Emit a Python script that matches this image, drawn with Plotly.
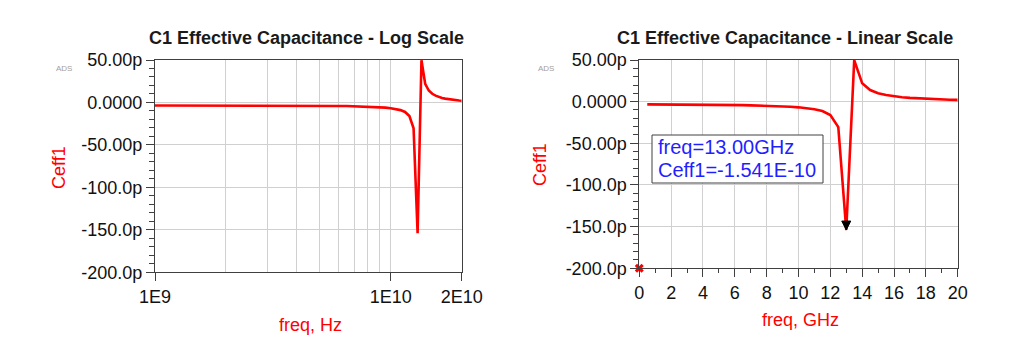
import math
import plotly.graph_objects as go

# ---------------- data ----------------
freq_ghz = [0.5, 1.0, 1.5, 2.0, 2.5, 3.0, 3.5, 4.0, 4.5, 5.0,
            5.5, 6.0, 6.5, 7.0, 7.5, 8.0, 8.5, 9.0, 9.5, 10.0,
            10.5, 11.0, 11.5, 12.0, 12.5, 13.0, 13.5, 14.0, 14.5, 15.0,
            15.5, 16.0, 16.5, 17.0, 17.5, 18.0, 18.5, 19.0, 19.5, 20.0]
ceff_pf = [-3.3, -3.3, -3.3, -3.35, -3.4, -3.5, -3.55, -3.6, -3.7, -3.8,
           -3.9, -4.1, -4.2, -4.4, -4.6, -4.8, -5.2, -5.6, -6.1, -6.8,
           -7.7, -9.0, -11.2, -16.0, -30.5, -154.1, 49.8, 22.0, 14.0, 10.2,
           8.0, 6.3, 5.3, 4.5, 3.9, 3.3, 2.9, 2.6, 2.3, 2.1]

y_tickvals = [50, 0, -50, -100, -150, -200]
y_ticktext = ["50.00p", "0.0000", "-50.00p", "-100.0p", "-150.0p", "-200.0p"]
log_tickvals = [1e9, 1e10, 2e10]
log_ticktext = ["1E9", "1E10", "2E10"]
log_minor_vals = [2e9, 3e9, 4e9, 5e9, 6e9, 7e9, 8e9, 9e9]
lin_tickvals = [0, 2, 4, 6, 8, 10, 12, 14, 16, 18, 20]
marker_freq = 13.0

titles = ["C1 Effective Capacitance - Log Scale", "C1 Effective Capacitance - Linear Scale"]
y_title = "Ceff1"
x_titles = ["freq, Hz", "freq, GHz"]

# ---------------- layout helpers ----------------
W, H = 1024, 357
OFF = 8  # page body margin in the browser
FONT = "Liberation Sans, Arial, sans-serif"
RED = "#ff0000"
AXC = "#404040"
GRID = "#d0d0d0"


def px(x):
    return (x - OFF) / W


def py(y):
    return 1 - (y - OFF) / H


freq_hz = [f * 1e9 for f in freq_ghz]
mk_val = ceff_pf[freq_ghz.index(marker_freq)]

fig = go.Figure()
fig.add_trace(go.Scatter(x=freq_hz, y=ceff_pf, xaxis="x", yaxis="y", mode="lines",
                         line=dict(color=RED, width=2.6), showlegend=False, hoverinfo="skip"))
fig.add_trace(go.Scatter(x=freq_ghz, y=ceff_pf, xaxis="x2", yaxis="y2", mode="lines",
                         line=dict(color=RED, width=2.6), showlegend=False, hoverinfo="skip"))
fig.add_trace(go.Scatter(x=[lin_tickvals[0]], y=[y_tickvals[-1]], xaxis="x2", yaxis="y2", mode="markers",
                         marker=dict(symbol="x", size=8, color=RED, line=dict(width=0)),
                         cliponaxis=False, showlegend=False, hoverinfo="skip"))

common = dict(showline=True, linecolor=AXC, linewidth=1, mirror=True, showgrid=True, automargin=False,
              gridcolor=GRID, gridwidth=1, zeroline=False, ticks="outside", ticklen=8,
              tickcolor=AXC, tickwidth=1, tickfont=dict(family=FONT, size=18, color="#111111"))

yaxis_common = dict(common, range=[-200, 50], tickmode="array", tickvals=y_tickvals, ticktext=y_ticktext,
                    minor=dict(tickmode="linear", tick0=0, dtick=10, ticks="outside", ticklen=5,
                               tickcolor=AXC, showgrid=False))

fig.update_layout(
    width=W, height=H, margin=dict(l=0, r=0, t=0, b=0, autoexpand=False),
    paper_bgcolor="white", plot_bgcolor="white", showlegend=False,
    xaxis=dict(common, type="log", range=[math.log10(1e9), math.log10(2e10)], domain=[px(155), px(461.7)],
               anchor="y", tickmode="array", tickvals=log_tickvals, ticktext=log_ticktext,
               minor=dict(tickmode="array", tickvals=log_minor_vals, showgrid=True, gridcolor=GRID, ticks="")),
    yaxis=dict(yaxis_common, domain=[py(272.3), py(60)], anchor="x"),
    xaxis2=dict(common, range=[0, 20], domain=[px(639.3), px(957.7)], anchor="y2", tickmode="array",
                tickvals=lin_tickvals,
                minor=dict(tickmode="linear", tick0=0, dtick=1, ticks="outside", ticklen=4,
                           tickcolor=AXC, showgrid=False)),
    yaxis2=dict(yaxis_common, domain=[py(268.3), py(60)], anchor="x2"),
)

ann = []
# titles
for t, cx in zip(titles, [306, 785]):
    ann.append(dict(text="<b>%s</b>" % t, x=px(cx), y=py(38), xref="paper", yref="paper",
                    xanchor="center", yanchor="middle", showarrow=False,
                    font=dict(family=FONT, size=18, color="#1a1a1a")))
# ADS tags
for cx in [64, 546]:
    ann.append(dict(text="ADS", x=px(cx), y=py(68), xref="paper", yref="paper",
                    xanchor="center", yanchor="middle", showarrow=False,
                    font=dict(family=FONT, size=8, color="#a0a0a0")))
# y titles
for cx, cy in [(59, 168), (540, 165)]:
    ann.append(dict(text=y_title, x=px(cx), y=py(cy), xref="paper", yref="paper", textangle=-90,
                    xanchor="center", yanchor="middle", showarrow=False,
                    font=dict(family=FONT, size=18, color=RED)))
# x titles
for t, cx, cy in zip(x_titles, [310, 800], [325, 320]):
    ann.append(dict(text=t, x=px(cx), y=py(cy), xref="paper", yref="paper",
                    xanchor="center", yanchor="middle", showarrow=False,
                    font=dict(family=FONT, size=18, color=RED)))
# marker readout
readout = ["freq=%.2fGHz" % marker_freq, "%s=%.3E" % (y_title, mk_val * 1e-12)]
for line, cy in zip(readout, [147, 170]):
    ann.append(dict(text=line, x=px(656), y=py(cy), xref="paper", yref="paper",
                    xanchor="left", yanchor="middle", showarrow=False,
                    font=dict(family=FONT, size=20, color="#1f1fff")))
fig.update_layout(annotations=ann)

fig.update_layout(shapes=[
    dict(type="rect", xref="paper", yref="paper", x0=px(652), x1=px(823), y0=py(183), y1=py(135),
         line=dict(color=AXC, width=1), fillcolor="white", layer="above"),
    dict(type="path", xref="x2", yref="y2", xsizemode="pixel", ysizemode="pixel",
         xanchor=marker_freq, yanchor=mk_val, path="M0,0 L-4.5,9 L4.5,9 Z",
         fillcolor="black", line=dict(color="black", width=1), layer="above"),
])

fig.write_html("out.html")
